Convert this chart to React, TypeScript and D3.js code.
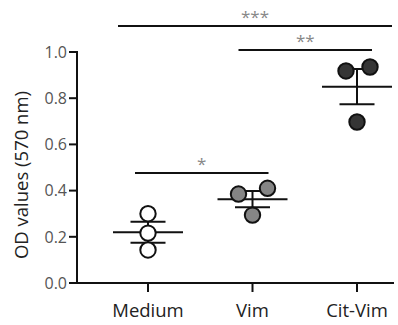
import React from "react";
import * as d3 from "d3";

const categories = ["Medium", "Vim", "Cit-Vim"];
const mediumValues = [0.30, 0.216, 0.143];
const vimValues = [0.385, 0.41, 0.294];
const citVimValues = [0.918, 0.935, 0.697];
const yTicks = [0.0, 0.2, 0.4, 0.6, 0.8, 1.0];
const comparisons = [
  { from: "Medium", to: "Cit-Vim", label: "***", level: 1.113 },
  { from: "Vim", to: "Cit-Vim", label: "**", level: 1.009 },
  { from: "Medium", to: "Vim", label: "*", level: 0.476 },
];

const seriesValues = [mediumValues, vimValues, citVimValues];
const fills = ["#ffffff", "#858585", "#353535"];
// horizontal scatter offsets (px) of each point within its column
const jitter = [
  [0, 0, 0],
  [-14, 15, 0],
  [-11, 13, 0],
];
// extents of comparison lines (px beyond category centre)
const compExt = [
  [-30, 35],
  [-14, 15],
  [-13, 16],
];

export default function App() {
  const W = 398, H = 325;
  const y = d3.scaleLinear().domain([0, 1]).range([283, 52]);
  const x = d3.scalePoint<string>().domain(categories).range([148, 357]);
  const axisX = 77;
  const r = 7.7;
  const font = "'Open Sans', 'DejaVu Sans', sans-serif";

  const stats = seriesValues.map((vals) => {
    const m = d3.mean(vals)!;
    const sd = d3.deviation(vals)!;
    const sem = sd / Math.sqrt(vals.length);
    return { m, sem };
  });

  return (
    <svg width={W} height={H} style={{ position: "absolute", left: 0, top: 0, background: "#fff" }}>
      {/* Y axis */}
      <line x1={axisX} x2={axisX} y1={y(1) - 1} y2={y(0)} stroke="#111" strokeWidth={2} />
      {yTicks.map((t) => (
        <g key={t}>
          <line x1={axisX - 8} x2={axisX} y1={y(t)} y2={y(t)} stroke="#111" strokeWidth={2} />
          <text x={axisX - 10} y={y(t)} dy="0.36em" textAnchor="end" fontSize={16} fill="#555" fontFamily={font}>
            {t.toFixed(1)}
          </text>
        </g>
      ))}
      <text
        transform={`translate(21,175) rotate(-90)`}
        textAnchor="middle"
        dy="0.36em"
        fontSize={18.5}
        fill="#222"
        fontFamily={font}
      >
        OD values (570 nm)
      </text>
      {/* X axis */}
      <line x1={axisX - 1} x2={394} y1={y(0)} y2={y(0)} stroke="#111" strokeWidth={2} />
      {categories.map((c) => (
        <g key={c}>
          <line x1={x(c)!} x2={x(c)!} y1={y(0)} y2={y(0) + 9} stroke="#111" strokeWidth={2} />
          <text x={x(c)!} y={317} textAnchor="middle" fontSize={18.5} fill="#222" fontFamily={font}>
            {c}
          </text>
        </g>
      ))}
      {/* error bars */}
      {categories.map((c, i) => {
        const cx = x(c)!;
        const { m, sem } = stats[i];
        return (
          <g key={c} stroke="#111" strokeWidth={2}>
            <line x1={cx - 35} x2={cx + 35} y1={y(m)} y2={y(m)} />
            <line x1={cx} x2={cx} y1={y(m - sem)} y2={y(m + sem)} />
            <line x1={cx - 17.5} x2={cx + 17.5} y1={y(m - sem)} y2={y(m - sem)} />
            <line x1={cx - 17.5} x2={cx + 17.5} y1={y(m + sem)} y2={y(m + sem)} />
          </g>
        );
      })}
      {/* points */}
      {categories.map((c, i) =>
        seriesValues[i].map((v, j) => (
          <circle
            key={c + j}
            cx={x(c)! + jitter[i][j]}
            cy={y(v)}
            r={r}
            fill={fills[i]}
            stroke="#111"
            strokeWidth={2}
          />
        ))
      )}
      {/* significance */}
      {comparisons.map((cmp, i) => {
        const x1 = x(cmp.from)! + compExt[i][0];
        const x2 = x(cmp.to)! + compExt[i][1];
        const yy = y(cmp.level);
        return (
          <g key={cmp.label}>
            <line x1={x1} x2={x2} y1={yy} y2={yy} stroke="#111" strokeWidth={2} />
            <text x={(x1 + x2) / 2} y={yy - 3} textAnchor="middle" fontSize={17} fill="#888" fontFamily={font}>
              {cmp.label}
            </text>
          </g>
        );
      })}
    </svg>
  );
}
